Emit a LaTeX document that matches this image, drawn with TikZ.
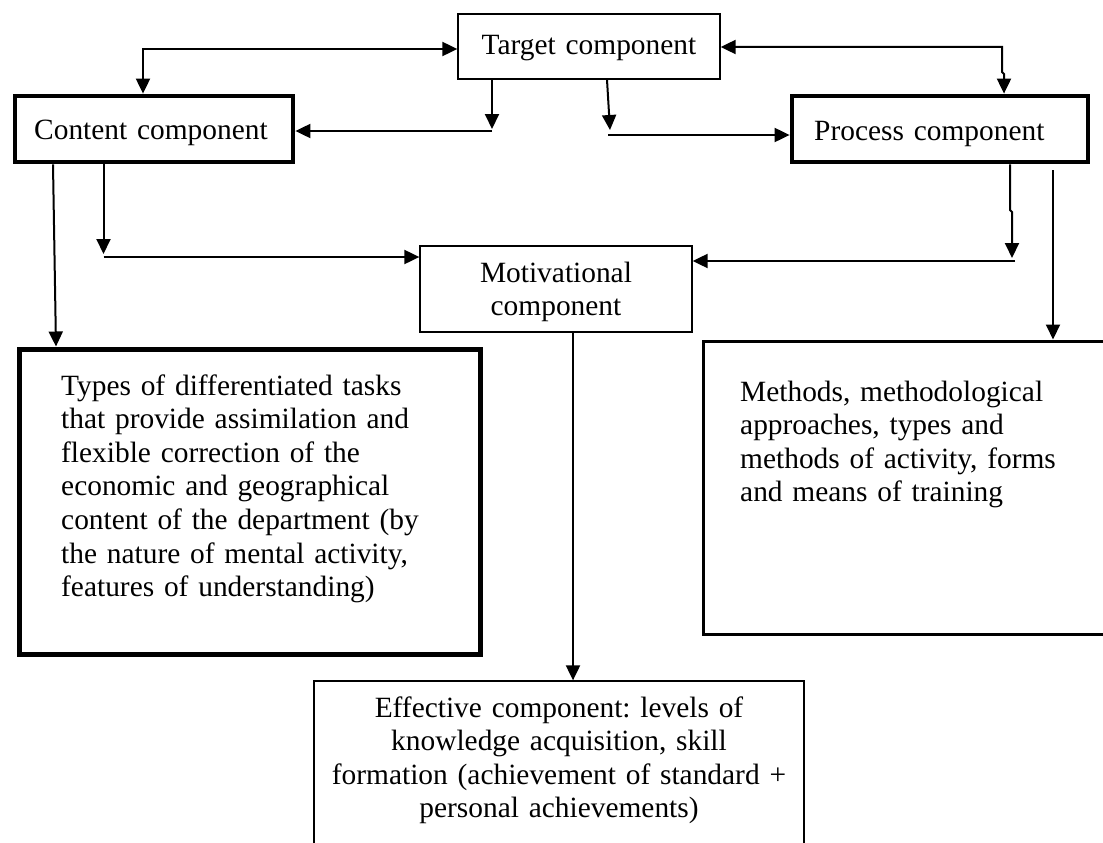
\documentclass[tikz,border=0pt]{standalone}
\usepackage{fontspec}
\setmainfont{Liberation Serif}
\usetikzlibrary{arrows.meta,calc}
\frenchspacing
\begin{document}
\begin{tikzpicture}[x=1pt,y=-1pt,
  box/.style={draw,rectangle,inner sep=0pt,line width=1.3pt},
  heavybox/.style={box,line width=4.8pt},
  txt/.style={inner sep=0pt,font=\fontsize{29.4pt}{33.6pt}\selectfont,text width=#1},
  txt/.default=460pt,
  arr/.style={line width=2pt,-{Triangle[length=15pt,width=14pt]}},
  biarr/.style={line width=2pt,{Triangle[length=15pt,width=14pt]}-{Triangle[length=15pt,width=14pt]}}]

\useasboundingbox (0,0) rectangle (1103,843);
\clip (0,0) rectangle (1103,843);

% boxes
\node[box, minimum width=262pt, minimum height=65pt] (target) at (589,46.5) {};
\node[heavybox, minimum width=278pt, minimum height=66pt] (content) at (154,129) {};
\node[heavybox, minimum width=296pt, minimum height=66pt] (process) at (940,129) {};
\node[box, minimum width=272pt, minimum height=86pt] (motiv) at (556,289) {};
\node[box, line width=5pt, minimum width=461pt, minimum height=305pt] (types) at (249.5,501.5) {};
\node[box, line width=3pt, minimum width=427pt, minimum height=293pt] (methods) at (916.5,487.5) {};
\node[box, minimum width=490pt, minimum height=219pt] (effective) at (559,790.5) {};

% texts
\node[txt=300pt, align=center, anchor=base] (targettext) at (589,55) {Target component};
\node[txt=300pt, align=left, anchor=base west] (contenttext) at (34,139) {Content component};
\node[txt=300pt, align=left, anchor=base west] (processtext) at (814,140) {Process component};
\node[txt=260pt, align=center, anchor=base] (motivtext) at (556,282) {Motivational\\component};
\node[txt=440pt, align=left, anchor=base west] (typestext) at (61,395)
  {Types of differentiated tasks\\that provide assimilation and\\flexible correction of the\\economic and geographical\\content of the department (by\\the nature of mental activity,\\features of understanding)};
\node[txt=380pt, align=left, anchor=base west] (methodstext) at (740,401)
  {Methods, methodological\\approaches, types and\\methods of activity, forms\\and means of training};
\node[txt=480pt, align=center, anchor=base] (effectivetext) at (559,717)
  {Effective component: levels of\\knowledge acquisition, skill\\formation (achievement of standard +\\personal achievements)};

% connectors
\coordinate (tl) at (143,49);
\draw[biarr] (content.north -| tl) -- (tl) -- (target.west |- tl);

\coordinate (tr1) at (1002,47);
\coordinate (tr2) at (1002,72);
\coordinate (tr3) at (1004,74);
\draw[biarr] (process.north -| tr3) -- (tr3) -- (tr2) -- (tr1) -- (target.east |- tr1);

\coordinate (tc) at (492,131);
\draw[arr] (target.south -| tc) -- ($(tc)+(0,-2)$);
\draw[arr] (tc) -- (content.east |- tc);

\coordinate (tp0) at (607,0);
\coordinate (tp1) at (610,130);
\coordinate (tp2) at (608,135);
\draw[arr] (target.south -| tp0) -- (tp1);
\draw[arr] (tp2) -- (process.west |- tp2);

\coordinate (ct0) at (53,0);
\coordinate (ct1) at (56,0);
\draw[arr] (content.south -| ct0) -- (types.north -| ct1);

\coordinate (cm) at (103.5,257);
\draw[arr] (content.south -| cm) -- ($(cm)+(0,-3)$);
\draw[arr] (cm) -- (motiv.west |- cm);

\coordinate (pm1) at (1010,210);
\coordinate (pm2) at (1012,212);
\coordinate (pm3) at (1012,258);
\coordinate (pm) at (1015,261);
\draw[arr] (process.south -| pm1) -- (pm1) -- (pm2) -- (pm3);
\draw[arr] (pm) -- (motiv.east |- pm);

\coordinate (pmt) at (1053,170);
\draw[arr] (pmt) -- (methods.north -| pmt);

\coordinate (me) at (573,0);
\draw[arr] (motiv.south -| me) -- (effective.north -| me);
\end{tikzpicture}
\end{document}
